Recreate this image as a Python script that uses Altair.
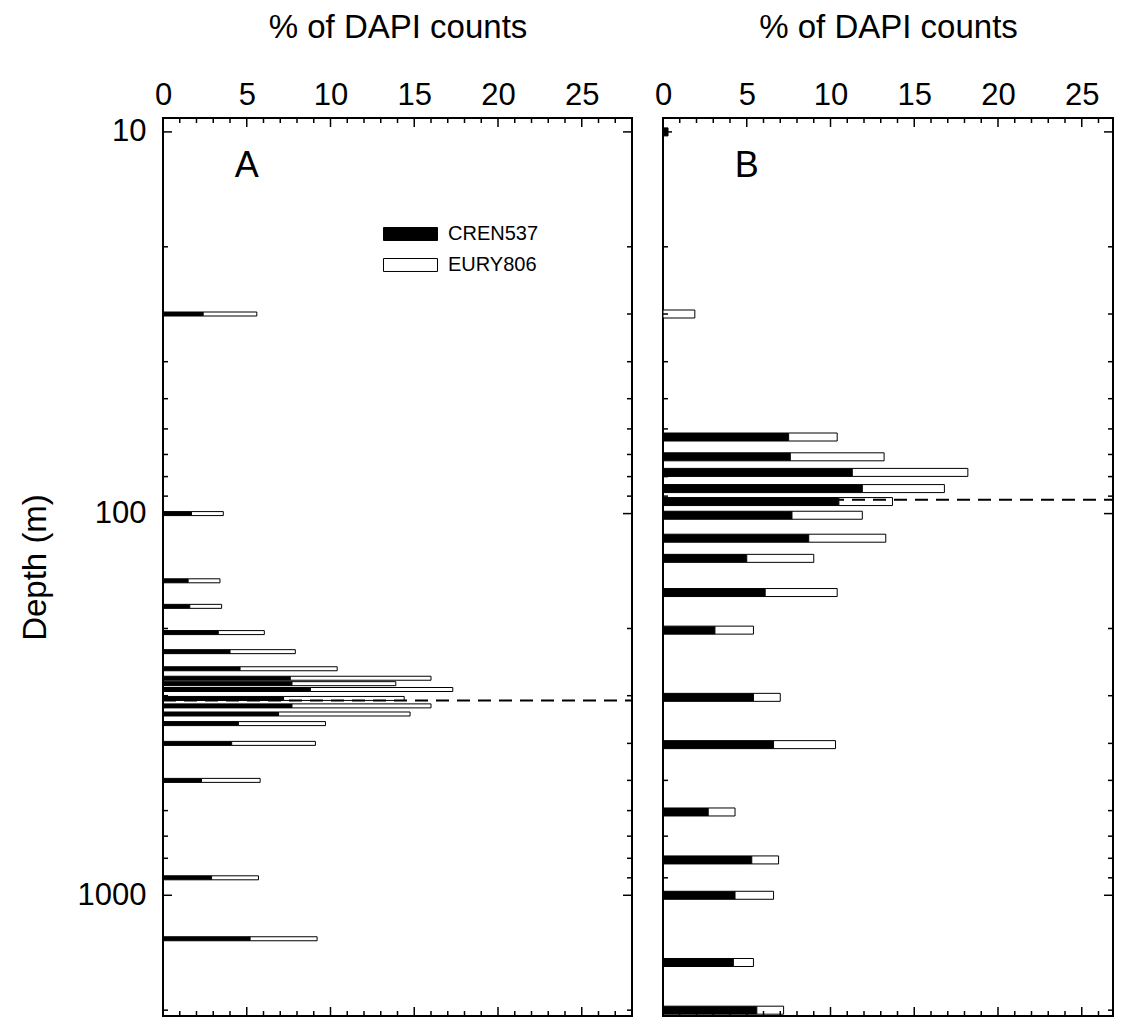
import altair as alt
import pandas as pd

# ---------------- data ----------------
series = ["CREN537", "EURY806"]

depth_a = [30, 100, 150, 175, 205, 230, 255, 270, 279, 289, 305, 319, 335, 355, 400, 500, 900, 1300]
cren_a = [2.4, 1.7, 1.5, 1.6, 3.3, 4.0, 4.6, 7.6, 7.7, 8.8, 7.2, 7.7, 6.9, 4.5, 4.1, 2.3, 2.9, 5.2]
eury_a = [3.2, 1.9, 1.9, 1.9, 2.75, 3.9, 5.8, 8.4, 6.2, 8.5, 7.2, 8.3, 7.85, 5.2, 5.0, 3.5, 2.8, 4.0]

depth_b = [10, 30, 63, 71, 78, 86, 93, 101, 116, 131, 161, 202, 303, 403, 605, 808, 1000, 1500, 2000]
cren_b = [0.3, 0.0, 7.5, 7.6, 11.3, 11.9, 10.5, 7.7, 8.7, 5.0, 6.1, 3.1, 5.4, 6.6, 2.7, 5.3, 4.3, 4.2, 5.6]
eury_b = [0.0, 1.9, 2.9, 5.6, 6.9, 4.9, 3.2, 4.2, 4.6, 4.0, 4.3, 2.3, 1.6, 3.7, 1.6, 1.6, 2.3, 1.2, 1.6]

boundary_a = 309
boundary_b = 92

panel_letters = ["A", "B"]
x_label_values = [0, 5, 10, 15, 20, 25]
x_major = [0, 5, 10, 15, 20, 25]
x_minor = [v for v in range(0, 29) if v % 5 != 0]
y_label_values = [10, 100, 1000]
y_major = [10, 100, 1000]
y_minor = [20, 30, 40, 50, 60, 70, 80, 90, 200, 300, 400, 500, 600, 700, 800, 900, 2000]

# ---------------- styling / layout ----------------
FONT = "Liberation Sans"
H = 898
WA = 469
WB = 450
XMAX_A = 28.0
XMAX_B = WB / (WA / XMAX_A)
Y_DOMAIN = [9.477, 2010]
MAJOR_LEN = 9
MINOR_LEN = 5


def bars_df(depths, cren, eury):
    rows = []
    for d, c, e in zip(depths, cren, eury):
        if c > 0:
            rows.append({"depth": d, "series": series[0], "start": 0.0, "end": c})
        if e > 0:
            rows.append({"depth": d, "series": series[1], "start": c, "end": c + e})
    return pd.DataFrame(rows)


def panel(depths, cren, eury, boundary, letter, width, xmax, bar_size, first):
    xs = alt.Scale(domain=[0, xmax], nice=False, zero=False)
    ys = alt.Scale(type="log", domain=Y_DOMAIN, reverse=True, nice=False)

    xaxis = alt.Axis(
        orient="top", values=x_label_values, title="% of DAPI counts",
        ticks=False, tickSize=0, domain=False, grid=False,
        labelPadding=7, titlePadding=35,
        labelFont=FONT, titleFont=FONT, labelFontSize=31, titleFontSize=33,
        titleFontWeight="normal", labelColor="black", titleColor="black",
        labelFlush=False,
    )
    if first:
        yaxis = alt.Axis(
            values=y_label_values, format="d", title="Depth (m)",
            ticks=False, tickSize=0, domain=False, grid=False,
            labelPadding=17, titlePadding=25,
            labelFont=FONT, titleFont=FONT, labelFontSize=31, titleFontSize=33,
            titleFontWeight="normal", labelColor="black", titleColor="black",
        )
        legend = alt.Legend(
            orient="none", legendX=220, legendY=109, title=None,
            symbolType="M-1,-0.24L1,-0.24L1,0.24L-1,0.24Z", symbolSize=2916,
            clipHeight=14, rowPadding=11, labelOffset=10, padding=0,
            labelFont=FONT, labelFontSize=20, labelColor="black",
            symbolStrokeColor="black", symbolStrokeWidth=1,
        )
    else:
        yaxis = None
        legend = None

    bars = alt.Chart(bars_df(depths, cren, eury)).mark_bar(
        size=bar_size, stroke="black", strokeWidth=1, orient="horizontal", clip=True
    ).encode(
        x=alt.X("start:Q", scale=xs, axis=xaxis),
        x2="end:Q",
        y=alt.Y("depth:Q", scale=ys, axis=yaxis),
        fill=alt.Fill("series:N", scale=alt.Scale(domain=series, range=["black", "white"]),
                      legend=legend),
    )

    def xticks(values, length, bottom):
        y0, y1 = (H, H - length) if bottom else (0, length)
        return alt.Chart(pd.DataFrame({"v": values})).mark_rule(
            color="black", strokeWidth=1.5).encode(
            x=alt.X("v:Q", scale=xs, axis=xaxis), y=alt.value(y0), y2=alt.value(y1))

    def yticks(values, length, right):
        x0, x1 = (width, width - length) if right else (0, length)
        return alt.Chart(pd.DataFrame({"v": values})).mark_rule(
            color="black", strokeWidth=1.5, clip=True).encode(
            y=alt.Y("v:Q", scale=ys, axis=yaxis), x=alt.value(x0), x2=alt.value(x1))

    xmin_vals = [v for v in x_minor if v <= xmax]
    ticks = [
        xticks(x_major, MAJOR_LEN, False), xticks(xmin_vals, MINOR_LEN, False),
        xticks(x_major, MAJOR_LEN, True), xticks(xmin_vals, MINOR_LEN, True),
        yticks(y_major, MAJOR_LEN, False), yticks(y_minor, MINOR_LEN, False),
        yticks(y_major, MAJOR_LEN, True), yticks(y_minor, MINOR_LEN, True),
    ]

    dash = alt.Chart(pd.DataFrame({"d": [boundary]})).mark_rule(
        color="black", strokeWidth=2, strokeDash=[13, 8]).encode(
        y=alt.Y("d:Q", scale=ys, axis=yaxis), x=alt.value(0), x2=alt.value(width))

    letter_mark = alt.Chart(pd.DataFrame({"t": [letter]})).mark_text(
        font=FONT, fontSize=36, color="black", align="center", baseline="middle").encode(
        text="t:N",
        x=alt.X(datum=5, scale=xs, axis=xaxis),
        y=alt.Y(datum=12.3, scale=ys, axis=yaxis),
    )

    return alt.layer(bars, *ticks, dash, letter_mark).properties(width=width, height=H)


pa = panel(depth_a, cren_a, eury_a, boundary_a, panel_letters[0], WA, XMAX_A, 4, True)
pb = panel(depth_b, cren_b, eury_b, boundary_b, panel_letters[1], WB, XMAX_B, 8, False)

chart = alt.hconcat(pa, pb, spacing=19).resolve_scale(fill="independent").properties(
    padding={"left": 10, "top": 2, "right": 0, "bottom": 0}
).configure_view(stroke="black", strokeWidth=2).configure_axis(labelFont=FONT, titleFont=FONT)

chart.save("out.html", embed_options={"renderer": "svg", "actions": False})
